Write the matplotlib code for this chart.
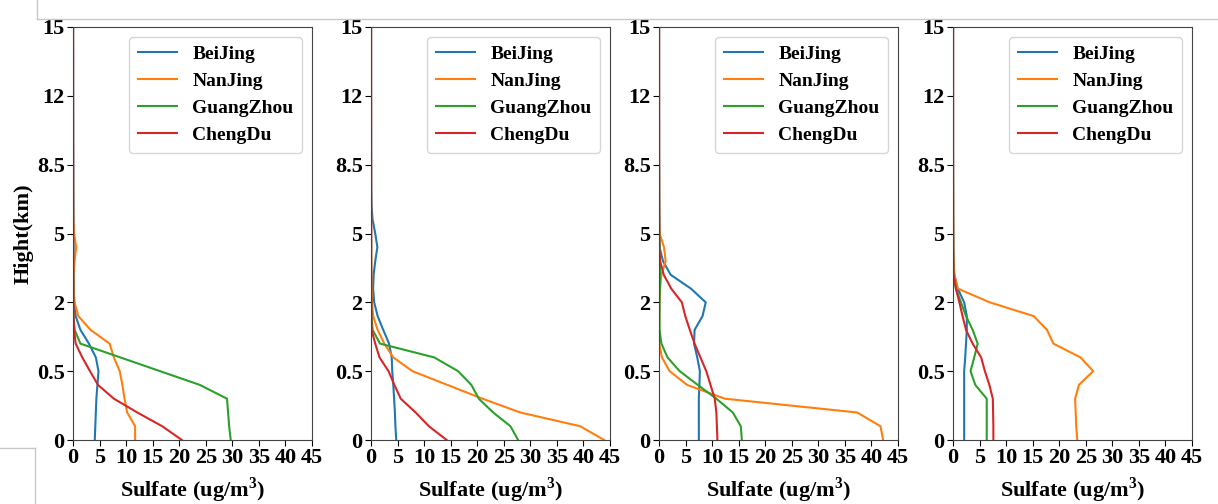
import matplotlib
matplotlib.use("Agg")
import matplotlib.pyplot as plt
from matplotlib.lines import Line2D
import numpy as np

plt.rcParams['font.family'] = ['Liberation Serif', 'DejaVu Serif']
plt.rcParams['font.weight'] = 'bold'
plt.rcParams['mathtext.fontset'] = 'custom'
plt.rcParams['mathtext.rm'] = 'Liberation Serif:bold'

cities = ['BeiJing', 'NanJing', 'GuangZhou', 'ChengDu']
levels = np.arange(31)
ytick_pos = [0, 5, 10, 15, 20, 25, 30]
ytick_labels = ['0', '0.5', '2', '5', '8.5', '12', '15']

# sulfate per model level (level 0 = surface), one panel per list
p1_beijing = [4.1, 4.2, 4.3, 4.4, 4.6, 4.8, 4.3, 3.0, 1.4, 0.5, 0.2, 0.15, 0.12, 0.1, 0.1,
              0.1, 0.08, 0.08, 0.06, 0.06, 0.05, 0.05, 0.04, 0.04, 0.03, 0.03, 0.02, 0.02, 0.02, 0.01, 0.01]
p1_nanjing = [11.7, 11.7, 10.2, 9.7, 9.3, 8.8, 7.7, 6.9, 3.3, 1.0, 0.3, 0.1, 0.1, 0.3, 0.6,
              0.2, 0.05, 0.03, 0.02, 0.02, 0.01, 0.01, 0.01, 0.01, 0.0, 0.0, 0.0, 0.0, 0.0, 0.0, 0.0]
p1_guangzhou = [29.7, 29.4, 29.2, 29.0, 23.9, 16.4, 8.9, 1.4, 0.3, 0.1, 0.05, 0.04, 0.03, 0.02, 0.02,
                0.01, 0.01, 0.01, 0.01, 0.0, 0.0, 0.0, 0.0, 0.0, 0.0, 0.0, 0.0, 0.0, 0.0, 0.0, 0.0]
p1_chengdu = [20.5, 16.8, 12.1, 7.7, 4.7, 3.2, 1.75, 0.5, 0.2, 0.1, 0.08, 0.06, 0.05, 0.05, 0.04,
              0.04, 0.04, 0.03, 0.03, 0.03, 0.03, 0.03, 0.02, 0.02, 0.02, 0.02, 0.02, 0.02, 0.02, 0.02, 0.02]

p2_beijing = [4.75, 4.6, 4.5, 4.35, 4.2, 4.0, 3.9, 3.4, 2.3, 1.25, 0.6, 0.4, 0.5, 0.8, 1.2,
              0.8, 0.3, 0.1, 0.05, 0.04, 0.03, 0.03, 0.02, 0.02, 0.02, 0.01, 0.01, 0.01, 0.01, 0.01, 0.01]
p2_nanjing = [43.9, 39.4, 28.1, 21.0, 14.4, 7.8, 4.2, 2.5, 1.25, 0.4, 0.2, 0.1, 0.05, 0.04, 0.03,
              0.03, 0.02, 0.02, 0.01, 0.01, 0.01, 0.0, 0.0, 0.0, 0.0, 0.0, 0.0, 0.0, 0.0, 0.0, 0.0]
p2_guangzhou = [27.7, 26.25, 23.0, 20.3, 18.9, 16.4, 11.9, 1.7, 0.3, 0.1, 0.05, 0.04, 0.03, 0.02, 0.02,
                0.01, 0.01, 0.01, 0.0, 0.0, 0.0, 0.0, 0.0, 0.0, 0.0, 0.0, 0.0, 0.0, 0.0, 0.0, 0.0]
p2_chengdu = [14.25, 10.9, 8.4, 5.6, 4.4, 3.3, 1.6, 0.8, 0.1, 0.08, 0.06, 0.05, 0.05, 0.04, 0.04,
              0.04, 0.03, 0.03, 0.03, 0.03, 0.02, 0.02, 0.02, 0.02, 0.02, 0.02, 0.02, 0.02, 0.02, 0.02, 0.02]

p3_beijing = [7.5, 7.5, 7.5, 7.5, 7.6, 7.7, 7.2, 6.6, 6.7, 8.2, 8.8, 6.0, 2.2, 0.75, 0.1,
              0.08, 0.06, 0.05, 0.04, 0.03, 0.03, 0.02, 0.02, 0.02, 0.01, 0.01, 0.01, 0.01, 0.01, 0.01, 0.01]
p3_nanjing = [42.2, 41.7, 37.3, 12.4, 5.3, 2.0, 0.55, 0.05, 0.03, 0.05, 0.1, 0.2, 0.45, 1.25, 0.95,
              0.1, 0.05, 0.03, 0.02, 0.02, 0.01, 0.01, 0.01, 0.0, 0.0, 0.0, 0.0, 0.0, 0.0, 0.0, 0.0]
p3_guangzhou = [15.6, 15.4, 13.9, 10.8, 7.3, 3.9, 1.6, 0.45, 0.1, 0.1, 0.1, 0.15, 0.2, 0.2, 0.1,
                0.05, 0.03, 0.02, 0.01, 0.01, 0.0, 0.0, 0.0, 0.0, 0.0, 0.0, 0.0, 0.0, 0.0, 0.0, 0.0]
p3_chengdu = [11.0, 10.9, 10.8, 10.5, 9.7, 8.9, 7.8, 6.7, 5.8, 4.95, 4.3, 2.3, 0.9, 0.2, 0.05,
              0.04, 0.04, 0.03, 0.03, 0.03, 0.02, 0.02, 0.02, 0.02, 0.02, 0.02, 0.02, 0.02, 0.02, 0.02, 0.02]

p4_beijing = [2.1, 2.1, 2.1, 2.1, 2.1, 2.1, 2.3, 2.45, 2.6, 2.6, 2.1, 0.9, 0.25, 0.1, 0.05,
              0.04, 0.03, 0.03, 0.02, 0.02, 0.02, 0.01, 0.01, 0.01, 0.01, 0.01, 0.01, 0.01, 0.01, 0.01, 0.01]
p4_nanjing = [23.4, 23.2, 23.1, 23.0, 23.7, 26.4, 24.0, 18.9, 17.7, 15.2, 6.9, 0.9, 0.25, 0.1, 0.05,
              0.03, 0.02, 0.02, 0.01, 0.01, 0.0, 0.0, 0.0, 0.0, 0.0, 0.0, 0.0, 0.0, 0.0, 0.0, 0.0]
p4_guangzhou = [6.35, 6.35, 6.35, 6.35, 4.2, 3.3, 4.0, 4.65, 3.7, 2.45, 1.5, 0.55, 0.1, 0.05, 0.04,
                0.03, 0.02, 0.02, 0.01, 0.01, 0.0, 0.0, 0.0, 0.0, 0.0, 0.0, 0.0, 0.0, 0.0, 0.0, 0.0]
p4_chengdu = [7.6, 7.6, 7.55, 7.5, 6.85, 6.0, 5.3, 3.7, 2.45, 1.8, 1.2, 0.55, 0.1, 0.05, 0.04,
              0.04, 0.03, 0.03, 0.03, 0.02, 0.02, 0.02, 0.02, 0.02, 0.02, 0.02, 0.02, 0.02, 0.02, 0.02, 0.02]

panels = [
    [p1_beijing, p1_nanjing, p1_guangzhou, p1_chengdu],
    [p2_beijing, p2_nanjing, p2_guangzhou, p2_chengdu],
    [p3_beijing, p3_nanjing, p3_guangzhou, p3_chengdu],
    [p4_beijing, p4_nanjing, p4_guangzhou, p4_chengdu],
]

W, H = 1218, 504
fig = plt.figure(figsize=(W / 100, H / 100), dpi=100)

# axes left edges in pixels (panels were pasted side by side)
lefts = [73, 371, 659, 953]
ax_w = 239
ax_bottom = 440
ax_top = 27

for i, series in enumerate(panels):
    ax = fig.add_axes([lefts[i] / W, 1 - ax_bottom / H, ax_w / W, (ax_bottom - ax_top) / H])
    for name, vals in zip(cities, series):
        ax.plot(vals, levels, label=name, lw=1.5)
    ax.set_xlim(0, 45)
    ax.set_ylim(0, 30)
    ax.set_xticks(np.arange(0, 46, 5))
    ax.set_yticks(ytick_pos)
    ax.set_yticklabels(ytick_labels)
    ax.tick_params(labelsize=16, length=4, pad=2)
    for lab in ax.get_xticklabels() + ax.get_yticklabels():
        lab.set_fontweight('bold')
    for sp in ax.spines.values():
        sp.set_color('#444444')
    ax.set_xlabel('Sulfate (ug/m$^3$)', fontsize=16, fontweight='bold', labelpad=5)
    if i == 0:
        ax.set_ylabel('Hight(km)', fontsize=16, fontweight='bold', labelpad=2)
    ax.legend(loc='upper right', prop={'size': 14, 'weight': 'bold'},
              handlelength=2.0, borderpad=0.45, labelspacing=0.48, handletextpad=0.8,
              borderaxespad=0.5)

# leftover screenshot frame lines
gray = '#c8c8c8'
fig.add_artist(Line2D([37 / W, 1], [1 - 19 / H, 1 - 19 / H], color=gray, lw=1))
fig.add_artist(Line2D([37 / W, 37 / W], [1, 1 - 19 / H], color=gray, lw=1))
fig.add_artist(Line2D([0, 35 / W], [1 - 448 / H, 1 - 448 / H], color=gray, lw=1))
fig.add_artist(Line2D([35 / W, 35 / W], [1 - 448 / H, 0], color=gray, lw=1))

fig.savefig('out.png', dpi=100)
